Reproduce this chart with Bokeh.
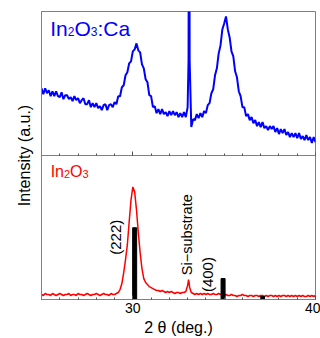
import math
from bokeh.plotting import figure
from bokeh.models import Range1d, LinearAxis, SingleIntervalTicker, FixedTicker, Label
from bokeh.embed import file_html
from bokeh.resources import INLINE

# ---------------- data ----------------
two_theta = [
    25.0, 25.1, 25.2, 25.3, 25.4, 25.5, 25.6, 25.7, 25.8, 25.9,
    26.0, 26.1, 26.2, 26.3, 26.4, 26.5, 26.6, 26.7, 26.8, 26.9,
    27.0, 27.1, 27.2, 27.3, 27.4, 27.5, 27.6, 27.7, 27.8, 27.9,
    28.0, 28.1, 28.2, 28.3, 28.4, 28.5, 28.6, 28.7, 28.8, 28.9,
    29.0, 29.1, 29.2, 29.3, 29.4, 29.5, 29.6, 29.7, 29.8, 29.9,
    30.0, 30.1, 30.2, 30.3, 30.4, 30.5, 30.6, 30.7, 30.8, 30.9,
    31.0, 31.1, 31.2, 31.3, 31.4, 31.5, 31.6, 31.7, 31.8, 31.9,
    32.0, 32.1, 32.2, 32.3, 32.4, 32.5, 32.6, 32.7, 32.8, 32.9,
    33.0, 33.05, 33.08, 33.11, 33.2, 33.3, 33.4, 33.5, 33.6, 33.7, 33.8, 33.9,
    34.0, 34.1, 34.2, 34.3, 34.4, 34.5, 34.6, 34.7, 34.8, 34.9,
    35.0, 35.1, 35.2, 35.3, 35.4, 35.5, 35.6, 35.7, 35.8, 35.9,
    36.0, 36.1, 36.2, 36.3, 36.4, 36.5, 36.6, 36.7, 36.8, 36.9,
    37.0, 37.1, 37.2, 37.3, 37.4, 37.5, 37.6, 37.7, 37.8, 37.9,
    38.0, 38.1, 38.2, 38.3, 38.4, 38.5, 38.6, 38.7, 38.8, 38.9,
    39.0, 39.1, 39.2, 39.3, 39.4, 39.5, 39.6, 39.7, 39.8, 39.9,
    40.0,
]

# In2O3:Ca film (upper panel), a.u.
intensity_ca = [
    67, 61, 67, 62, 65, 59, 64, 59, 64, 59,
    58, 63, 56, 60, 60, 56, 58, 54, 59, 55,
    57, 52, 55, 57, 51, 51, 55, 48, 52, 48,
    52, 47, 49, 45, 50, 51, 45, 50, 51, 48,
    53, 51, 59, 59, 68, 70, 80, 83, 92, 94,
    104, 106, 112, 105, 103, 91, 87, 76, 73, 60,
    59, 48, 49, 42, 46, 41, 46, 41, 43, 39,
    44, 40, 44, 40, 43, 38, 42, 38, 43, 38,
    48, 95, 420, 95, 28, 36, 35, 41, 37, 42, 38, 44,
    42, 50, 52, 62, 66, 80, 87, 102, 110, 126,
    132, 139, 126, 118, 104, 99, 84, 78, 64, 59,
    48, 48, 39, 41, 35, 38, 32, 35, 29, 33,
    28, 33, 27, 29, 25, 29, 26, 29, 23, 27,
    21, 26, 22, 26, 20, 23, 18, 22, 18, 22,
    17, 22, 16, 19, 15, 20, 15, 18, 12, 18,
    13,
]

# In2O3 film (lower panel), a.u.
intensity_in2o3 = [
    5, 4, 6, 5, 5, 4, 6, 5, 4, 5,
    6, 5, 4, 5, 5, 6, 4, 5, 5, 4,
    6, 5, 5, 4, 5, 6, 5, 4, 5, 5,
    6, 5, 4, 5, 6, 5, 5, 4, 6, 5,
    5, 6, 7, 10, 16, 27, 40, 55, 78, 100,
    113, 108, 90, 67, 47, 31, 21, 17, 15, 13,
    12, 11, 10, 9, 9, 8, 9, 8, 7, 8,
    7, 8, 7, 6, 7, 7, 6, 7, 7, 8,
    14, 20, 17, 12, 7, 6, 5, 6, 5, 6, 5, 6,
    5, 6, 5, 5, 6, 5, 5, 6, 5, 5,
    4, 5, 4, 4, 5, 4, 4, 3, 4, 4,
    5, 4, 4, 3, 4, 4, 3, 4, 4, 3,
    4, 4, 3, 4, 3, 4, 4, 3, 4, 3,
    4, 3, 4, 4, 3, 4, 3, 4, 3, 4,
    3, 4, 3, 4, 3, 3, 4, 3, 4, 3,
    4,
]

# reference pattern (stick) lines
ref_positions = [30.1, 34.94, 37.1]
ref_heights = [72, 21, 3]

# ---------------- figure ----------------
FONT = "Liberation Sans"
GREY = "#808080"

p = figure(width=320, height=338, x_range=Range1d(25, 40), y_range=Range1d(0, 289),
           output_backend="svg", toolbar_location=None,
           min_border_left=41, min_border_right=5, min_border_top=11, min_border_bottom=38)
p.extra_y_ranges = {"top": Range1d(-145, 144)}
p.xgrid.visible = False
p.ygrid.visible = False
p.outline_line_color = GREY
p.background_fill_color = "white"
p.border_fill_color = "white"

xa = p.xaxis[0]
xa.ticker = SingleIntervalTicker(interval=10, num_minor_ticks=10)
xa.major_tick_in = 4
xa.major_tick_out = 0
xa.minor_tick_in = 2
xa.minor_tick_out = 0
xa.axis_line_color = GREY
xa.major_tick_line_color = "#505050"
xa.minor_tick_line_color = "#505050"
xa.major_label_text_font = FONT
xa.major_label_text_font_size = "14px"
xa.major_label_text_color = "black"
xa.major_label_standoff = 3
xa.axis_label = "2 θ (deg.)"
xa.axis_label_text_font = FONT
xa.axis_label_text_font_size = "16px"
xa.axis_label_text_font_style = "normal"
xa.axis_label_text_color = "black"
xa.axis_label_standoff = 3

ya = p.yaxis[0]
ya.ticker = FixedTicker(ticks=[])
ya.major_tick_in = 0
ya.major_tick_out = 0
ya.minor_tick_in = 0
ya.minor_tick_out = 0
ya.major_label_standoff = 0
ya.axis_line_color = GREY
ya.axis_label = "Intensity (a.u.)"
ya.axis_label_text_font = FONT
ya.axis_label_text_font_size = "16px"
ya.axis_label_text_font_style = "normal"
ya.axis_label_text_color = "black"
ya.axis_label_standoff = 9

# divider between the two panels, with inward ticks
mid = LinearAxis(fixed_location=145,
                 ticker=SingleIntervalTicker(interval=10, num_minor_ticks=10))
mid.major_tick_in = 4
mid.major_tick_out = 0
mid.minor_tick_in = 2
mid.minor_tick_out = 0
mid.axis_line_color = GREY
mid.major_tick_line_color = "#505050"
mid.minor_tick_line_color = "#505050"
mid.major_label_text_color = None
mid.major_label_text_font_size = "0px"
p.add_layout(mid, "below")

# curves
p.line(two_theta, intensity_ca, y_range_name="top", line_color="#0000ff", line_width=2)
p.line(two_theta, intensity_in2o3, line_color="#ff0000", line_width=1.5)
p.vbar(x=ref_positions, top=ref_heights, bottom=0, width=0.22,
       fill_color="black", line_color="black")

# formula labels with subscripts
def formula(parts, x, y, color, y_range_name="default"):
    for text, dx, dy, size in parts:
        p.add_layout(Label(x=x, y=y, x_offset=dx, y_offset=dy, text=text,
                           y_range_name=y_range_name,
                           text_font=FONT, text_font_size=f"{size}px",
                           text_color=color, text_align="left",
                           text_baseline="alphabetic"))

formula([("In", 0, 0, 21), ("2", 17.5, -3, 12), ("O", 24.2, 0, 21),
         ("3", 40.5, -3, 12), (":Ca", 47.2, 0, 21)],
        25.48, 127.3, "#0000ff", "top")
formula([("In", 0, 0, 16), ("2", 13.3, -3, 11), ("O", 19.4, 0, 16),
         ("3", 31.9, -3, 11)],
        25.5, 128.7, "#ff0000")

# rotated peak annotations
for txt, x, y, size in [("(222)", 29.5, 62.5, 15),
                        ("Si−substrate", 33.42, 65, 14.5),
                        ("(400)", 34.58, 25, 15)]:
    p.add_layout(Label(x=x, y=y, text=txt, angle=math.pi / 2,
                       text_font=FONT, text_font_size=f"{size}px",
                       text_color="black", text_align="center",
                       text_baseline="bottom"))

open("out.html", "w").write(file_html(p, INLINE))
